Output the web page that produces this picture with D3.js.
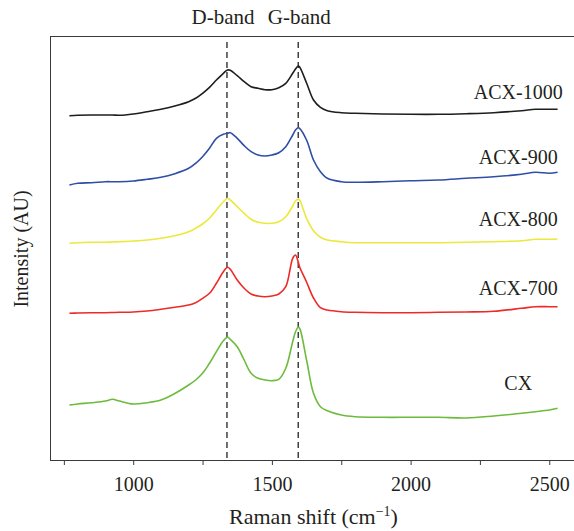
<!DOCTYPE html>
<html>
<head>
<meta charset="utf-8">
<script src="https://cdn.jsdelivr.net/npm/d3@7"></script>
<style>
  html, body { margin: 0; padding: 0; background: #fff; }
  svg { display: block; }
  text { font-family: "Liberation Serif", "Times New Roman", serif; fill: #231f20; }
</style>
</head>
<body>
<div id="chart"></div>
<script>
// ---- data ----
const wavenumbers = [770,800,850,900,925,950,1000,1050,1100,1150,1200,1225,1250,1275,1300,1325,1340,1350,1375,1400,1425,1450,1475,1500,1525,1550,1575,1585,1595,1600,1625,1650,1675,1700,1750,1800,1900,2000,2100,2200,2300,2400,2450,2500,2530];

const acx1000 = [344.3,344.7,345,345,345,344.7,346,348.3,350.7,354,358.3,361.7,366.7,372.7,380,386.7,390,389.7,384.3,378.3,373.3,371.7,370.3,370.3,372.3,376.7,386.7,391,394,393,377,360,352.7,349.3,347.3,346.7,346,345.7,345.7,346.3,347.3,349.3,350.7,350.7,350.7];
const acx900  = [275,276.7,277.3,278.3,278.3,278.3,279,280.7,282.7,286.3,291.7,296.7,303.3,311.7,321.7,325.7,326.7,327.3,321.7,314.3,308.3,305,304,305,307.3,313.3,325,330,332.3,331.7,320,300,288.3,281.7,278.3,277.7,278.3,279.3,280,281.7,283.3,285.7,287.7,286.7,287.7];
const acx800  = [216.7,217.3,217.7,217.7,218,218.3,219,220,221.7,224.3,228.3,231.7,236,241.7,250,258.3,261.7,260,253.3,246.7,240.7,237.7,236.7,236.7,238.3,243.3,254,259,261,260,241.7,229.3,222.7,220,218.3,217.3,217.3,217.3,217.3,217.7,218.3,219.3,220.7,220.7,221];
const acx700  = [146.7,147,147.3,147.3,147.5,147.7,148,149,150.7,152.7,155,157.3,161.7,166.7,176.7,188.3,192.7,190.7,180,171.7,166,164,163.3,164,166,173.3,201.7,205,198,193,178,162,152.3,150,148.3,147.7,147.3,147.3,147.7,148,148.7,151.7,153.3,153.3,153.3];
const cx      = [55,56,57.3,59,60.7,59,56,57.3,60,66.5,75,80,86.7,96.7,108.3,119.3,122.7,120.7,113.3,100,86.7,81.7,80,79.3,80.7,91.7,118.3,128,132.7,131.7,100,66.7,53.3,49.3,45,43.3,42.7,42.7,42.7,42,44,46.7,48.3,50,51.7];

const seriesNames  = ["ACX-1000","ACX-900","ACX-800","ACX-700","CX"];
const seriesValues = [acx1000, acx900, acx800, acx700, cx];
const seriesColors = ["#1e1e1e","#2f4ea6","#ece83c","#ee2a26","#6cbb3c"];
// label anchor: [wavenumber, intensity]
const labelPos = [[2388,360.7],[2388,296],[2388,234],[2388,165],[2388,70]];

const bandNames = ["D-band","G-band"];
const bandPositions = [1338,1595];

const xTicksMajor = [1000,1500,2000,2500];
const xTicksAll = [750,1000,1250,1500,1750,2000,2250,2500];

// ---- layout ----
const W = 574, H = 531;
const mLeft = 50, mTop = 36, mRight = 577, mBottom = 460;

const svg = d3.select("#chart").append("svg")
  .attr("width", W).attr("height", H);

const x = d3.scaleLinear().domain([700, 2600]).range([mLeft, mRight]);
const y = d3.scaleLinear().domain([0, 424]).range([mBottom, mTop]);

const axisColor = "#3a3a3a";

// frame
svg.append("line").attr("x1", mLeft).attr("x2", mRight).attr("y1", mTop + 0.5).attr("y2", mTop + 0.5)
  .attr("stroke", axisColor).attr("stroke-width", 1);
svg.append("line").attr("x1", mRight - 0.5).attr("x2", mRight - 0.5).attr("y1", mTop).attr("y2", mBottom)
  .attr("stroke", axisColor).attr("stroke-width", 1);
svg.append("line").attr("x1", mLeft + 0.5).attr("x2", mLeft + 0.5).attr("y1", mTop).attr("y2", mBottom)
  .attr("stroke", axisColor).attr("stroke-width", 1);

// bottom axis
const xAxis = d3.axisBottom(x)
  .tickValues(xTicksAll)
  .tickSize(5)
  .tickPadding(12)
  .tickFormat(d => xTicksMajor.includes(d) ? String(d) : "");
const gx = svg.append("g").attr("transform", `translate(0,${mBottom})`).call(xAxis);
gx.select(".domain").attr("stroke", axisColor).attr("d", `M${mLeft},0.5H${mRight}`);
gx.selectAll(".tick line").attr("stroke", axisColor);
gx.selectAll(".tick text")
  .attr("font-family", '"Liberation Serif", serif')
  .attr("font-size", 20).attr("fill", "#231f20");

// dashed band lines
bandPositions.forEach((b, i) => {
  svg.append("line")
    .attr("x1", x(b)).attr("x2", x(b))
    .attr("y1", mTop + 6).attr("y2", mBottom)
    .attr("stroke", "#333").attr("stroke-width", 1.4)
    .attr("stroke-dasharray", "6,4");
  svg.append("text")
    .attr("x", x(b) + (i === 0 ? -4 : 1)).attr("y", 24)
    .attr("text-anchor", "middle")
    .attr("font-size", 21)
    .text(bandNames[i]);
});

// spectra
const line = d3.line()
  .x(d => x(d[0])).y(d => y(d[1]))
  .curve(d3.curveCatmullRom.alpha(0.5));

seriesValues.forEach((vals, i) => {
  const pts = wavenumbers.map((w, j) => [w, vals[j]]);
  svg.append("path")
    .datum(pts)
    .attr("d", line)
    .attr("fill", "none")
    .attr("stroke", seriesColors[i])
    .attr("stroke-width", 1.6)
    .attr("stroke-linejoin", "round");
  svg.append("text")
    .attr("x", x(labelPos[i][0])).attr("y", y(labelPos[i][1]))
    .attr("text-anchor", "middle")
    .attr("font-size", 20)
    .text(seriesNames[i]);
});

// axis titles
const xt = svg.append("text")
  .attr("x", (mLeft + mRight) / 2).attr("y", 524)
  .attr("text-anchor", "middle")
  .attr("font-size", 22);
xt.append("tspan").text("Raman shift (cm");
xt.append("tspan").attr("font-size", 14).attr("dy", -8).text("\u22121");
xt.append("tspan").attr("dy", 8).text(")");

svg.append("text")
  .attr("transform", "translate(28,249) rotate(-90)")
  .attr("text-anchor", "middle")
  .attr("font-size", 20)
  .text("Intensity (AU)");
</script>
</body>
</html>
